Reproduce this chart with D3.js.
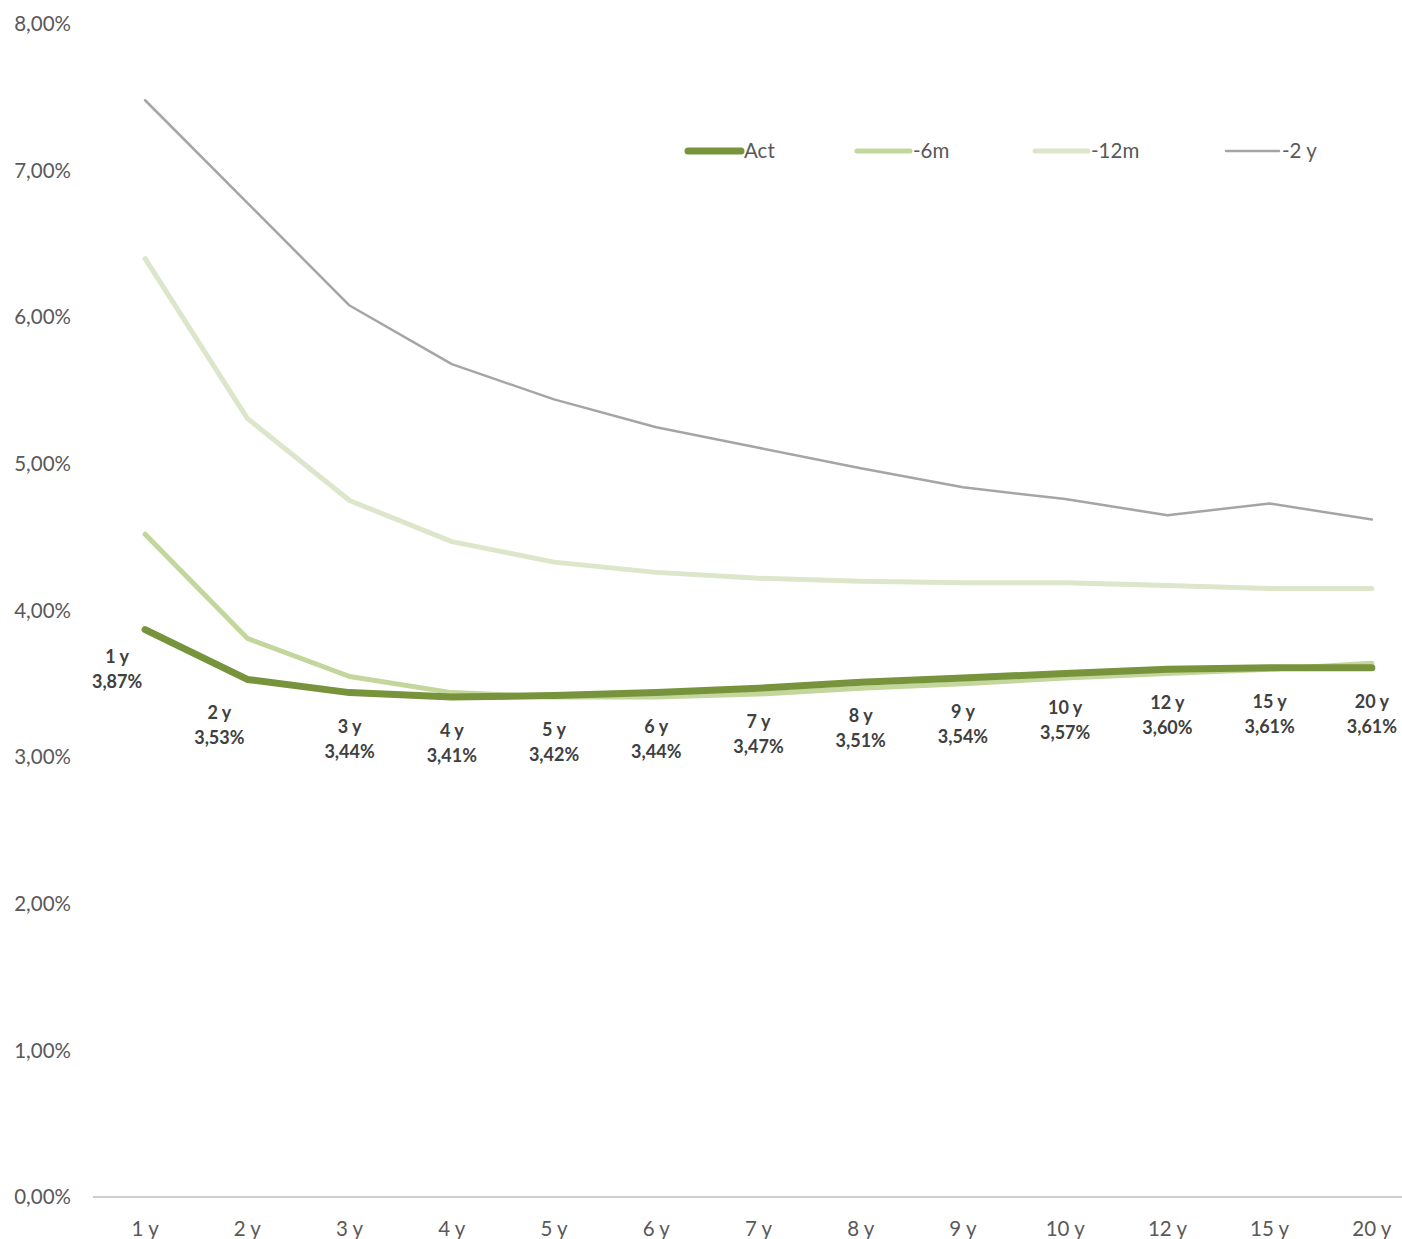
<!DOCTYPE html>
<html>
<head>
<meta charset="utf-8">
<script src="https://cdn.jsdelivr.net/npm/d3@7/dist/d3.min.js"></script>
<style>
  html, body { margin: 0; padding: 0; background: #fff; }
  svg { display: block; font-family: Lato, "Open Sans", sans-serif; }
</style>
</head>
<body>
<svg id="chart" width="1402" height="1239"></svg>
<script>
// Yield curve: maturities and rates (in %)
const maturities = ["1 y", "2 y", "3 y", "4 y", "5 y", "6 y", "7 y", "8 y", "9 y", "10 y", "12 y", "15 y", "20 y"];
const actRates   = [3.87, 3.53, 3.44, 3.41, 3.42, 3.44, 3.47, 3.51, 3.54, 3.57, 3.60, 3.61, 3.61];
const m6Rates    = [4.52, 3.81, 3.55, 3.44, 3.41, 3.41, 3.43, 3.47, 3.50, 3.54, 3.57, 3.60, 3.64];
const m12Rates   = [6.40, 5.31, 4.75, 4.47, 4.33, 4.26, 4.22, 4.20, 4.19, 4.19, 4.17, 4.15, 4.15];
const y2Rates    = [7.48, 6.78, 6.08, 5.68, 5.44, 5.25, 5.11, 4.97, 4.84, 4.76, 4.65, 4.73, 4.62];
const seriesNames = ["Act", "-6m", "-12m", "-2 y"];
const yTicks = [0, 1, 2, 3, 4, 5, 6, 7, 8];

const series = [
  { name: seriesNames[0], values: actRates, color: "#77933c", width: 7 },
  { name: seriesNames[1], values: m6Rates,  color: "#c3d69b", width: 5 },
  { name: seriesNames[2], values: m12Rates, color: "#dce6cb", width: 5 },
  { name: seriesNames[3], values: y2Rates,  color: "#a5a5a5", width: 2.5 }
];

const locale = d3.formatLocale({ decimal: ",", thousands: ".", grouping: [3], currency: ["", "€"] });
const pct = v => locale.format(".2f")(v) + "%";

const svg = d3.select("#chart");

const x = d3.scalePoint().domain(maturities).range([94, 1423]).padding(0.5);
const y = d3.scaleLinear().domain([0, 8]).range([1197, 24]);

// Y axis labels
svg.append("g").selectAll("text")
  .data(yTicks).join("text")
  .attr("x", 71).attr("y", d => y(d))
  .attr("dy", "0.35em")
  .attr("text-anchor", "end")
  .attr("font-size", 20.5).attr("fill", "#595959")
  .text(d => pct(d));

// Category axis
svg.append("line")
  .attr("x1", 93).attr("x2", 1402)
  .attr("y1", y(0)).attr("y2", y(0))
  .attr("stroke", "#bfbfbf").attr("stroke-width", 1.5);

svg.append("g").selectAll("text")
  .data(maturities).join("text")
  .attr("x", d => x(d)).attr("y", 1236)
  .attr("text-anchor", "middle")
  .attr("font-size", 20.5).attr("fill", "#595959")
  .text(d => d);

// Curves (drawn back to front so the current curve sits on top)
const line = d3.line()
  .x((d, i) => x(maturities[i]))
  .y(d => y(d));

svg.append("g").selectAll("path")
  .data(series.slice().reverse()).join("path")
  .attr("d", s => line(s.values))
  .attr("fill", "none")
  .attr("stroke", s => s.color)
  .attr("stroke-width", s => s.width)
  .attr("stroke-linejoin", "round")
  .attr("stroke-linecap", "round");

// Value labels for the current curve
const labelShift = { "1 y": -28, "2 y": -28 };
const lab = svg.append("g").selectAll("text")
  .data(actRates).join("text")
  .attr("text-anchor", "middle")
  .attr("font-size", 18).attr("font-weight", "bold").attr("fill", "#404040");
lab.append("tspan")
  .attr("x", (d, i) => x(maturities[i]) + (labelShift[maturities[i]] || 0))
  .attr("y", (d, i) => y(d) + (maturities[i] === "1 y" ? 33 : 40))
  .text((d, i) => maturities[i]);
lab.append("tspan")
  .attr("x", (d, i) => x(maturities[i]) + (labelShift[maturities[i]] || 0))
  .attr("dy", 25)
  .text(d => pct(d));

// Legend
const legendX = [688, 857, 1035, 1226];
const leg = svg.append("g").selectAll("g")
  .data(series).join("g")
  .attr("transform", (d, i) => `translate(${legendX[i]},151)`);
leg.append("line")
  .attr("x1", 0).attr("x2", 53)
  .attr("stroke", d => d.color)
  .attr("stroke-width", d => d.width)
  .attr("stroke-linecap", "round");
leg.append("text")
  .attr("x", 56).attr("dy", "0.35em")
  .attr("font-size", 20.5).attr("fill", "#595959")
  .text(d => d.name);
</script>
</body>
</html>
